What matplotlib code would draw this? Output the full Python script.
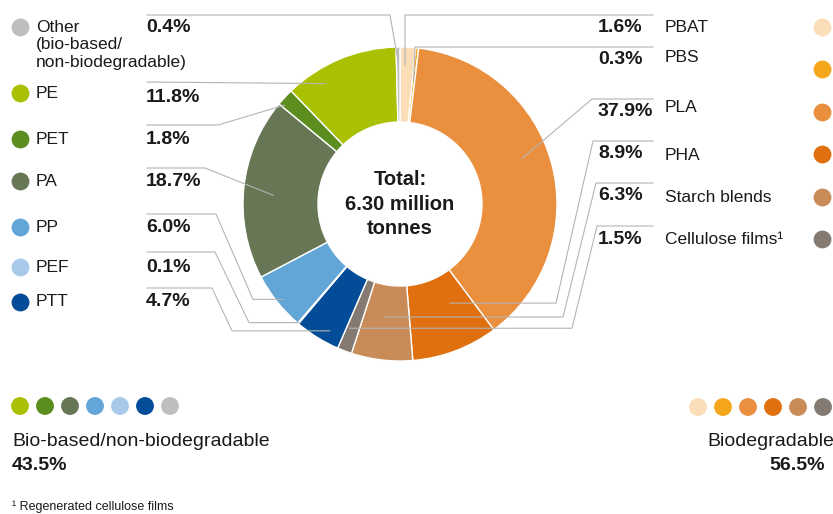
import numpy as np
import matplotlib.pyplot as plt

plt.rcParams['font.family'] = ['Liberation Sans', 'DejaVu Sans']

# shares in %, clockwise from 12 o'clock
materials = ['PBAT', 'PBS', 'PLA', 'PHA', 'Starch blends', 'Cellulose films¹',
             'PTT', 'PEF', 'PP', 'PA', 'PET', 'PE',
             'Other\n(bio-based/\nnon-biodegradable)']
shares = [1.6, 0.3, 37.9, 8.9, 6.3, 1.5, 4.7, 0.1, 6.0, 18.7, 1.8, 11.8, 0.4]
colors = ['#FBDDB8', '#F5A71C', '#E98F3E', '#E0700F', '#C98B57', '#857A72',
          '#034C97', '#A8C9E9', '#62A5D7', '#677655', '#5B8E1F', '#A9C102',
          '#BEBEBE']
biodegradable = [True] * 6 + [False] * 7

group_names = ['Bio-based/non-biodegradable', 'Biodegradable']
group_totals = [43.5, 56.5]
center_text = 'Total:\n6.30 million\ntonnes'
footnote = '¹ Regenerated cellulose films'

# layout (pixel coordinates, y downwards)
cx, cy, R, W = 400, 204, 157, 75
ink = '#1a1a1a'
line_col = '#b4b4b4'

# per slice: name y, percent y, dot y, leader line y, elbow x, bend x, frac, radius
rows = {
    0: (27, 27, 27, 15, 405, None, 0.36, 139),
    1: (57, 59, 69, 47, 415, None, 0.5, 124),
    2: (108, 111, 112, 99, 592, None, 0.46, 130),
    3: (155, 154, 154, 141, 593, 556, 0.31, 111),
    4: (197, 196, 197, 183, 596, 563, 0.54, 114),
    5: (240, 240, 239, 226, 597, 572, 0.74, 134),
    6: (302, 302, 302, 288, 212, 232, 0.33, 145),
    7: (267, 267, 267, 252, 215, 249, 0.5, 156),
    8: (227, 227, 227, 214, 216, 253, 0.47, 151),
    9: (181, 181, 181, 168, 205, None, 0.47, 127),
    10: (139, 139, 139, 125, 218, None, 0.15, 152),
    11: (93, 97, 93, 82, None, None, 0.28, 142),
    12: (27, 27, 27, 15, 390, None, 0.5, 142),
}

fig = plt.figure(figsize=(8.33, 5.14), dpi=100)
ax = fig.add_axes([0, 0, 1, 1])

ax.pie(shares, colors=colors, center=(cx, cy), radius=R, startangle=-90,
       counterclock=True,
       wedgeprops=dict(width=W, edgecolor='white', linewidth=1.0))
ax.set_xlim(0, 833)
ax.set_ylim(514, 0)
ax.set_aspect('equal')
ax.axis('off')

ax.text(cx, cy, center_text, ha='center', va='center', fontsize=14.5,
        fontweight='bold', color=ink, linespacing=1.38)

cum = np.concatenate([[0], np.cumsum(shares)[:-1]])


def slice_point(i, frac, r):
    a = np.radians((cum[i] + frac * shares[i]) / 100 * 360)
    return cx + r * np.sin(a), cy - r * np.cos(a)


for i, name in enumerate(materials):
    name_y, pct_y, dot_y, ly, ex, bx, frac, r = rows[i]
    x_end, y_end = slice_point(i, frac, r)
    if biodegradable[i]:
        x0, pct_x, name_x, dot_x = 653, 598, 665, 822
    else:
        x0, pct_x, name_x, dot_x = 147, 146, 36, 20
    xs, ys = [x0], [ly]
    if ex is not None:
        xs.append(ex)
        ys.append(ly)
    if bx is not None:
        xs.append(bx)
        ys.append(y_end)
    xs.append(x_end)
    ys.append(y_end)
    ax.plot(xs, ys, color=line_col, lw=0.8, zorder=3)

    ax.scatter([dot_x], [dot_y], s=165, color=colors[i], linewidths=0, zorder=4)
    for k, part in enumerate(name.split('\n')):
        ax.text(name_x, name_y + 17.5 * k, part, ha='left', va='center',
                fontsize=12.5, color=ink)
    ax.text(pct_x, pct_y, f'{shares[i]:.1f}%', ha='left', va='center',
            fontsize=14, fontweight='bold', color=ink)

# group legends at the bottom
left_order = [11, 10, 9, 8, 7, 6, 12]
right_order = [0, 1, 2, 3, 4, 5]
ax.scatter([20 + 25 * k for k in range(len(left_order))], [406] * len(left_order),
           s=165, color=[colors[i] for i in left_order], linewidths=0)
ax.scatter([698 + 25 * k for k in range(len(right_order))], [407] * len(right_order),
           s=165, color=[colors[i] for i in right_order], linewidths=0)

ax.text(12, 442, group_names[0], ha='left', va='center', fontsize=14, color=ink)
ax.text(12, 465, f'{group_totals[0]:.1f}%', ha='left', va='center', fontsize=14,
        fontweight='bold', color=ink)
ax.text(834, 442, group_names[1], ha='right', va='center', fontsize=14, color=ink)
ax.text(825, 465, f'{group_totals[1]:.1f}%', ha='right', va='center', fontsize=14,
        fontweight='bold', color=ink)

ax.text(12, 507, footnote, ha='left', va='center', fontsize=9, color=ink)

fig.savefig('out.png', dpi=100)
